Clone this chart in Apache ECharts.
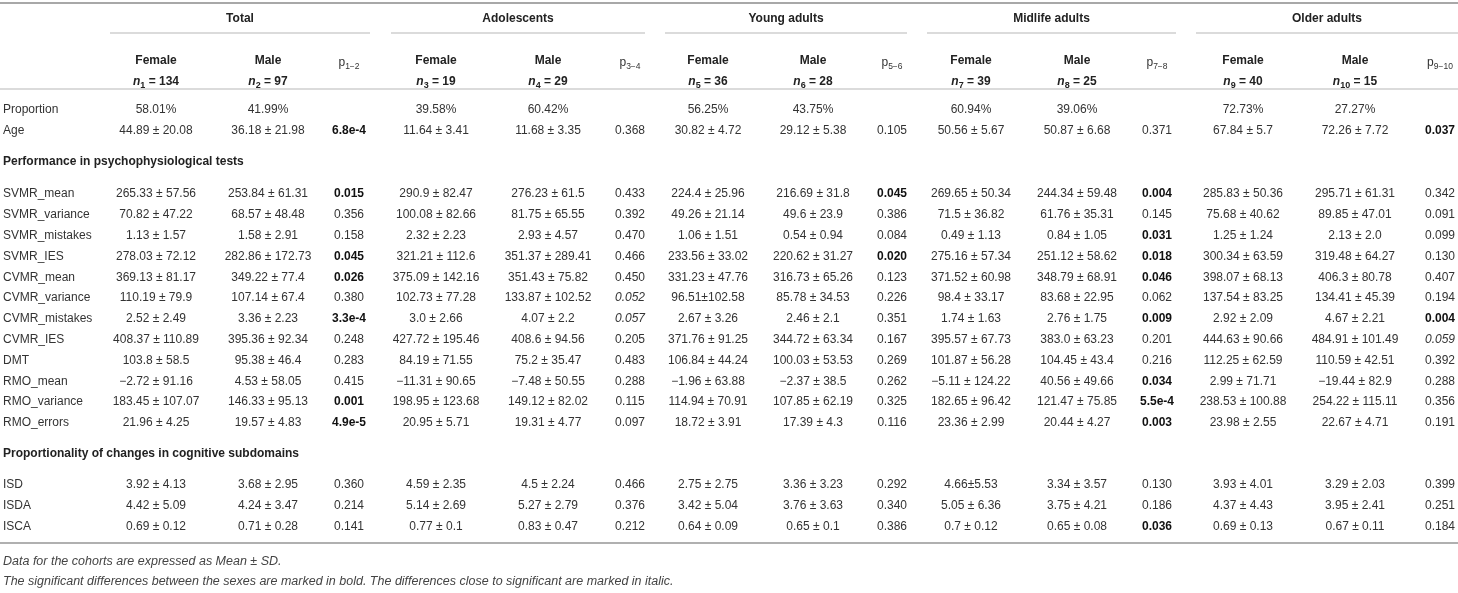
<!DOCTYPE html>
<html>
<head>
<meta charset="utf-8">
<script src="https://cdn.jsdelivr.net/npm/echarts@6/dist/echarts.min.js"></script>
<style>
  html, body { margin: 0; padding: 0; background: #fff; }
  #main { width: 1458px; height: 593px; }
</style>
</head>
<body>
<div id="main"></div>
<script>
const groups = ['Total', 'Adolescents', 'Young adults', 'Midlife adults', 'Older adults'];
const nFemale = [134, 19, 36, 39, 40];
const nMale = [97, 29, 28, 25, 15];

const sectionTitles = [null, 'Performance in psychophysiological tests', 'Proportionality of changes in cognitive subdomains'];

const generalLabels = ['Proportion', 'Age'];
const proportion = ['58.01%', '41.99%', '', '39.58%', '60.42%', '', '56.25%', '43.75%', '', '60.94%', '39.06%', '', '72.73%', '27.27%', ''];
const age = ['44.89 ± 20.08', '36.18 ± 21.98', '6.8e-4', '11.64 ± 3.41', '11.68 ± 3.35', '0.368', '30.82 ± 4.72', '29.12 ± 5.38', '0.105', '50.56 ± 5.67', '50.87 ± 6.68', '0.371', '67.84 ± 5.7', '72.26 ± 7.72', '0.037'];

const testLabels = ['SVMR_mean', 'SVMR_variance', 'SVMR_mistakes', 'SVMR_IES', 'CVMR_mean', 'CVMR_variance', 'CVMR_mistakes', 'CVMR_IES', 'DMT', 'RMO_mean', 'RMO_variance', 'RMO_errors'];
const svmrMean = ['265.33 ± 57.56', '253.84 ± 61.31', '0.015', '290.9 ± 82.47', '276.23 ± 61.5', '0.433', '224.4 ± 25.96', '216.69 ± 31.8', '0.045', '269.65 ± 50.34', '244.34 ± 59.48', '0.004', '285.83 ± 50.36', '295.71 ± 61.31', '0.342'];
const svmrVariance = ['70.82 ± 47.22', '68.57 ± 48.48', '0.356', '100.08 ± 82.66', '81.75 ± 65.55', '0.392', '49.26 ± 21.14', '49.6 ± 23.9', '0.386', '71.5 ± 36.82', '61.76 ± 35.31', '0.145', '75.68 ± 40.62', '89.85 ± 47.01', '0.091'];
const svmrMistakes = ['1.13 ± 1.57', '1.58 ± 2.91', '0.158', '2.32 ± 2.23', '2.93 ± 4.57', '0.470', '1.06 ± 1.51', '0.54 ± 0.94', '0.084', '0.49 ± 1.13', '0.84 ± 1.05', '0.031', '1.25 ± 1.24', '2.13 ± 2.0', '0.099'];
const svmrIes = ['278.03 ± 72.12', '282.86 ± 172.73', '0.045', '321.21 ± 112.6', '351.37 ± 289.41', '0.466', '233.56 ± 33.02', '220.62 ± 31.27', '0.020', '275.16 ± 57.34', '251.12 ± 58.62', '0.018', '300.34 ± 63.59', '319.48 ± 64.27', '0.130'];
const cvmrMean = ['369.13 ± 81.17', '349.22 ± 77.4', '0.026', '375.09 ± 142.16', '351.43 ± 75.82', '0.450', '331.23 ± 47.76', '316.73 ± 65.26', '0.123', '371.52 ± 60.98', '348.79 ± 68.91', '0.046', '398.07 ± 68.13', '406.3 ± 80.78', '0.407'];
const cvmrVariance = ['110.19 ± 79.9', '107.14 ± 67.4', '0.380', '102.73 ± 77.28', '133.87 ± 102.52', '0.052', '96.51±102.58', '85.78 ± 34.53', '0.226', '98.4 ± 33.17', '83.68 ± 22.95', '0.062', '137.54 ± 83.25', '134.41 ± 45.39', '0.194'];
const cvmrMistakes = ['2.52 ± 2.49', '3.36 ± 2.23', '3.3e-4', '3.0 ± 2.66', '4.07 ± 2.2', '0.057', '2.67 ± 3.26', '2.46 ± 2.1', '0.351', '1.74 ± 1.63', '2.76 ± 1.75', '0.009', '2.92 ± 2.09', '4.67 ± 2.21', '0.004'];
const cvmrIes = ['408.37 ± 110.89', '395.36 ± 92.34', '0.248', '427.72 ± 195.46', '408.6 ± 94.56', '0.205', '371.76 ± 91.25', '344.72 ± 63.34', '0.167', '395.57 ± 67.73', '383.0 ± 63.23', '0.201', '444.63 ± 90.66', '484.91 ± 101.49', '0.059'];
const dmt = ['103.8 ± 58.5', '95.38 ± 46.4', '0.283', '84.19 ± 71.55', '75.2 ± 35.47', '0.483', '106.84 ± 44.24', '100.03 ± 53.53', '0.269', '101.87 ± 56.28', '104.45 ± 43.4', '0.216', '112.25 ± 62.59', '110.59 ± 42.51', '0.392'];
const rmoMean = ['−2.72 ± 91.16', '4.53 ± 58.05', '0.415', '−11.31 ± 90.65', '−7.48 ± 50.55', '0.288', '−1.96 ± 63.88', '−2.37 ± 38.5', '0.262', '−5.11 ± 124.22', '40.56 ± 49.66', '0.034', '2.99 ± 71.71', '−19.44 ± 82.9', '0.288'];
const rmoVariance = ['183.45 ± 107.07', '146.33 ± 95.13', '0.001', '198.95 ± 123.68', '149.12 ± 82.02', '0.115', '114.94 ± 70.91', '107.85 ± 62.19', '0.325', '182.65 ± 96.42', '121.47 ± 75.85', '5.5e-4', '238.53 ± 100.88', '254.22 ± 115.11', '0.356'];
const rmoErrors = ['21.96 ± 4.25', '19.57 ± 4.83', '4.9e-5', '20.95 ± 5.71', '19.31 ± 4.77', '0.097', '18.72 ± 3.91', '17.39 ± 4.3', '0.116', '23.36 ± 2.99', '20.44 ± 4.27', '0.003', '23.98 ± 2.55', '22.67 ± 4.71', '0.191'];

const subdomainLabels = ['ISD', 'ISDA', 'ISCA'];
const isd = ['3.92 ± 4.13', '3.68 ± 2.95', '0.360', '4.59 ± 2.35', '4.5 ± 2.24', '0.466', '2.75 ± 2.75', '3.36 ± 3.23', '0.292', '4.66±5.53', '3.34 ± 3.57', '0.130', '3.93 ± 4.01', '3.29 ± 2.03', '0.399'];
const isda = ['4.42 ± 5.09', '4.24 ± 3.47', '0.214', '5.14 ± 2.69', '5.27 ± 2.79', '0.376', '3.42 ± 5.04', '3.76 ± 3.63', '0.340', '5.05 ± 6.36', '3.75 ± 4.21', '0.186', '4.37 ± 4.43', '3.95 ± 2.41', '0.251'];
const isca = ['0.69 ± 0.12', '0.71 ± 0.28', '0.141', '0.77 ± 0.1', '0.83 ± 0.47', '0.212', '0.64 ± 0.09', '0.65 ± 0.1', '0.386', '0.7 ± 0.12', '0.65 ± 0.08', '0.036', '0.69 ± 0.13', '0.67 ± 0.11', '0.184'];

const footnotes = [
  'Data for the cohorts are expressed as Mean ± SD.',
  'The significant differences between the sexes are marked in bold. The differences close to significant are marked in italic.'
];

// ---- layout (axis units = page pixels) ----
const colX = [156, 268, 349, 436, 548, 630, 708, 813, 892, 971, 1077, 1157, 1243, 1355, 1440];
const groupSpan = [[110, 370], [391, 645], [665, 907], [927, 1176], [1196, 1458]];
const sectionLayout = [
  { head: null, top: 110, step: 21 },
  { head: 162, top: 194, step: 20.8 },
  { head: 454, top: 485, step: 21 }
];

const FONT = 'Liberation Sans, Arial, Helvetica, sans-serif';
const TEXT = '#333';

const sections = [
  { labels: generalLabels, rows: [proportion, age] },
  { labels: testLabels, rows: [svmrMean, svmrVariance, svmrMistakes, svmrIes, cvmrMean, cvmrVariance, cvmrMistakes, cvmrIes, dmt, rmoMean, rmoVariance, rmoErrors] },
  { labels: subdomainLabels, rows: [isd, isda, isca] }
];

// build the list of text cells
let cells = [];
function cell(x, y, text, opt) {
  cells.push(Object.assign({ x: x, y: y, text: text, align: 'center' }, opt || {}));
}

groups.forEach((g, i) => {
  let span = groupSpan[i];
  cell((span[0] + span[1]) / 2, 19, g, { weight: 'bold', color: '#222' });
  cell(colX[i * 3], 61, 'Female', { weight: 'bold', color: '#222' });
  cell(colX[i * 3 + 1], 61, 'Male', { weight: 'bold', color: '#222' });
  cell(colX[i * 3], 82, '{n|n}{s|' + (2 * i + 1) + '}{b| = ' + nFemale[i] + '}', { rich: true });
  cell(colX[i * 3 + 1], 82, '{n|n}{s|' + (2 * i + 2) + '}{b| = ' + nMale[i] + '}', { rich: true });
  cell(colX[i * 3 + 2], 63, '{p|p}{ps|' + (2 * i + 1) + '−' + (2 * i + 2) + '}', { rich: true });
});

sections.forEach((sec, si) => {
  let lay = sectionLayout[si];
  if (sectionTitles[si]) {
    cell(3, lay.head, sectionTitles[si], { align: 'left', weight: 'bold', color: '#222' });
  }
  sec.labels.forEach((lab, ri) => {
    let y = lay.top + ri * lay.step;
    cell(3, y, lab, { align: 'left' });
    sec.rows[ri].forEach((v, ci) => {
      if (v === '') return;
      let opt = {};
      if (ci % 3 === 2) {
        let p = Number(v);
        if (p < 0.05) { opt.weight = 'bold'; opt.color = '#111'; }
        else if (p < 0.06) { opt.style = 'italic'; }
      }
      cell(colX[ci], y, v, opt);
    });
  });
});

footnotes.forEach((f, i) => {
  cell(3, 562 + i * 20, f, { align: 'left', style: 'italic', color: '#444', size: 12.5 });
});

// horizontal rules
const rules = [
  [0, 1458, 3, 2, '#a8a8a8'],
  [0, 1458, 89, 1.2, '#b8b8b8'],
  [0, 1458, 543, 2, '#b0b0b0']
].concat(groupSpan.map(s => [s[0], s[1], 33, 1.2, '#b8b8b8']));

const richStyles = {
  n: { fontFamily: FONT, fontSize: 12, fontStyle: 'italic', fontWeight: 'bold', fill: '#222', lineHeight: 16, verticalAlign: 'middle' },
  s: { fontFamily: FONT, fontSize: 9, fontWeight: 'bold', fill: '#222', lineHeight: 9, verticalAlign: 'bottom' },
  b: { fontFamily: FONT, fontSize: 12, fontWeight: 'bold', fill: '#222', lineHeight: 16, verticalAlign: 'middle' },
  p: { fontFamily: FONT, fontSize: 12, fill: TEXT, lineHeight: 16, verticalAlign: 'middle' },
  ps: { fontFamily: FONT, fontSize: 8.5, fill: TEXT, lineHeight: 9, verticalAlign: 'bottom' }
};

const chart = echarts.init(document.getElementById('main'), null, { renderer: 'canvas' });
chart.setOption({
  animation: false,
  backgroundColor: '#fff',
  grid: { left: 0, right: 0, top: 0, bottom: 0 },
  xAxis: { type: 'value', min: 0, max: 1458, show: false },
  yAxis: { type: 'value', min: 0, max: 593, inverse: true, show: false },
  series: [
    {
      type: 'custom',
      silent: true,
      clip: false,
      data: rules.map(r => [r[0], r[1], r[2]]),
      renderItem: function (params, api) {
        let r = rules[params.dataIndex];
        let a = api.coord([api.value(0), api.value(2)]);
        let b = api.coord([api.value(1), api.value(2)]);
        return {
          type: 'line',
          shape: { x1: a[0], y1: a[1], x2: b[0], y2: b[1] },
          style: { stroke: r[4], lineWidth: r[3] }
        };
      }
    },
    {
      type: 'custom',
      silent: true,
      clip: false,
      data: cells.map(c => [c.x, c.y]),
      renderItem: function (params, api) {
        let c = cells[params.dataIndex];
        let pt = api.coord([api.value(0), api.value(1)]);
        let style = {
          text: c.text,
          fill: c.color || TEXT,
          fontFamily: FONT,
          fontSize: c.size || 12,
          fontWeight: c.weight || 'normal',
          fontStyle: c.style || 'normal',
          align: c.align,
          verticalAlign: 'middle'
        };
        if (c.rich) style.rich = richStyles;
        return { type: 'text', x: pt[0], y: pt[1], style: style };
      }
    }
  ]
});
</script>
</body>
</html>
